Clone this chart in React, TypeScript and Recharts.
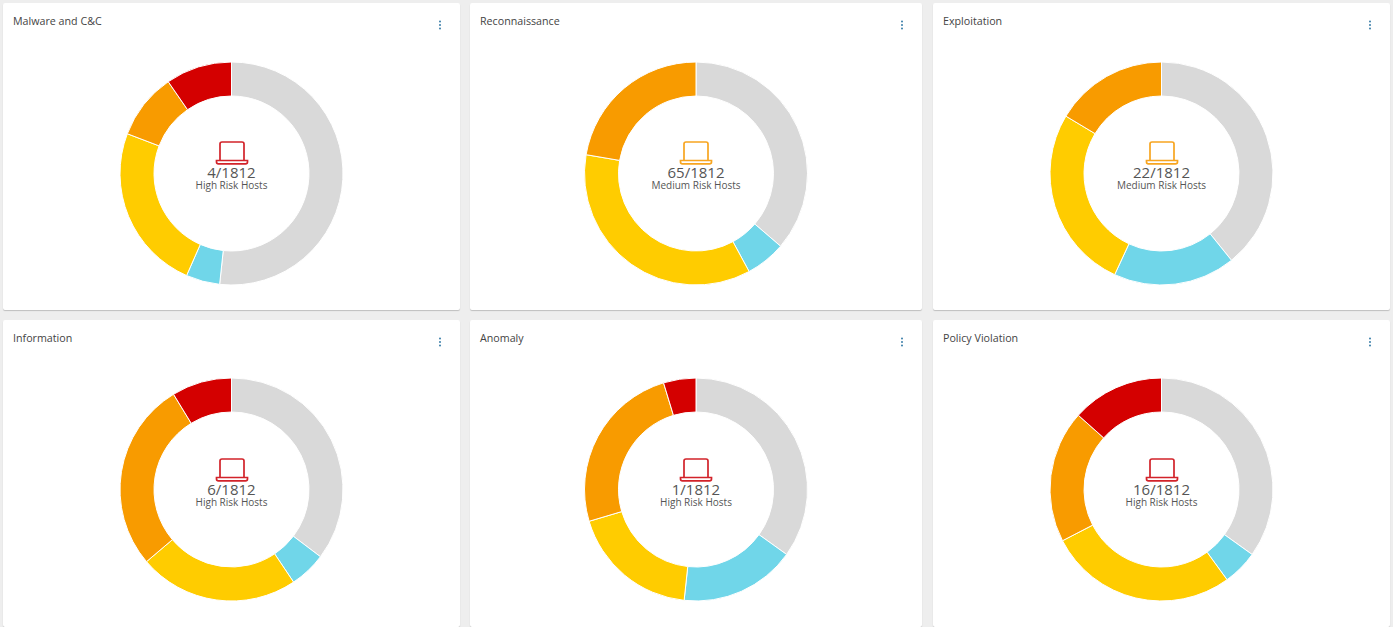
import { Cell, Pie, PieChart } from 'recharts';

const titles = ['Malware and C&C', 'Reconnaissance', 'Exploitation', 'Information', 'Anomaly', 'Policy Violation'];
const counts = ['4/1812', '65/1812', '22/1812', '6/1812', '1/1812', '16/1812'];
const riskLabels = ['High Risk Hosts', 'Medium Risk Hosts', 'Medium Risk Hosts', 'High Risk Hosts', 'High Risk Hosts', 'High Risk Hosts'];

// slice share in percent, clockwise from the top: none, info, low, medium, high
const malware = [51.7, 4.9, 24.2, 9.6, 9.6];
const recon = [36.3, 5.8, 35.6, 22.3];
const exploitation = [39.2, 17.7, 26.7, 16.4];
const information = [35.3, 5.3, 23.2, 27.5, 8.7];
const anomaly = [34.9, 16.8, 18.7, 24.9, 4.7];
const policy = [34.9, 5.1, 27.4, 19.2, 13.4];
const seriesList = [malware, recon, exploitation, information, anomaly, policy];

const SLICE_COLORS = ['#d9d9d9', '#70d6e9', '#ffcc00', '#f89b00', '#d40000'];
const CARD_X = [[3, 460], [470, 922], [933, 1390]];
const CARD_Y = [3, 320];
const CARD_H = 307;

function Laptop({ color }: { color: string }) {
  return (
    <svg width="34" height="24" viewBox="0 0 34 24" style={{ display: 'block', margin: '0 auto' }}>
      <path d="M5 19 V3 Q5 1 7 1 H27 Q29 1 29 3 V19" fill="none" stroke={color} strokeWidth="1.7" />
      <path d="M1.5 19.5 H32.5 V21 Q32.5 22.8 30.5 22.8 H3.5 Q1.5 22.8 1.5 21 Z" fill="none" stroke={color} strokeWidth="1.7" />
    </svg>
  );
}

function DonutCard({ index }: { index: number }) {
  const [x0, x1] = CARD_X[index % 3];
  const top = CARD_Y[index < 3 ? 0 : 1];
  const width = x1 - x0;
  const rows = seriesList[index].map((value, i) => ({ name: `s${i}`, value }));
  const iconColor = riskLabels[index].startsWith('High') ? '#d2232a' : '#f7a520';
  const cy = index < 3 ? 170.5 : 169.5;

  return (
    <div
      style={{
        position: 'absolute',
        left: x0,
        top,
        width,
        height: CARD_H,
        background: '#fff',
        boxShadow: '0 1px 1px rgba(0,0,0,0.2)',
        borderRadius: 2,
        fontFamily: '"Open Sans", sans-serif',
        color: '#444',
      }}
    >
      <div style={{ position: 'absolute', left: 10, top: 9.5, fontSize: 10.7, lineHeight: '16px' }}>{titles[index]}</div>
      <svg width="4" height="10" style={{ position: 'absolute', right: 18, top: 17 }}>
        <circle cx="2" cy="1.5" r="1" fill="#3a7ea8" />
        <circle cx="2" cy="5" r="1" fill="#3a7ea8" />
        <circle cx="2" cy="8.5" r="1" fill="#3a7ea8" />
      </svg>
      <PieChart width={width} height={CARD_H} margin={{ top: 0, right: 0, bottom: 0, left: 0 }}>
        <Pie
          data={rows}
          dataKey="value"
          cx={width / 2}
          cy={cy}
          innerRadius={77.5}
          outerRadius={111.5}
          startAngle={90}
          endAngle={-270}
          stroke="#fff"
          strokeWidth={1}
          isAnimationActive={false}
        >
          {rows.map((r, i) => (
            <Cell key={r.name} fill={SLICE_COLORS[i]} />
          ))}
        </Pie>
      </PieChart>
      <div style={{ position: 'absolute', left: 0, width, top: 137.5, textAlign: 'center' }}>
        <Laptop color={iconColor} />
        <div style={{ fontSize: 15, lineHeight: '14px', color: '#555' }}>{counts[index]}</div>
        <div style={{ fontSize: 10, lineHeight: '11px', marginTop: 1, color: '#555' }}>{riskLabels[index]}</div>
      </div>
    </div>
  );
}

export default function App() {
  return (
    <div style={{ position: 'relative', width: 1393, height: 627, background: '#eeeeee', overflow: 'hidden' }}>
      <style>{'body{margin:0}'}</style>
      {titles.map((t, i) => (
        <DonutCard key={t} index={i} />
      ))}
    </div>
  );
}
